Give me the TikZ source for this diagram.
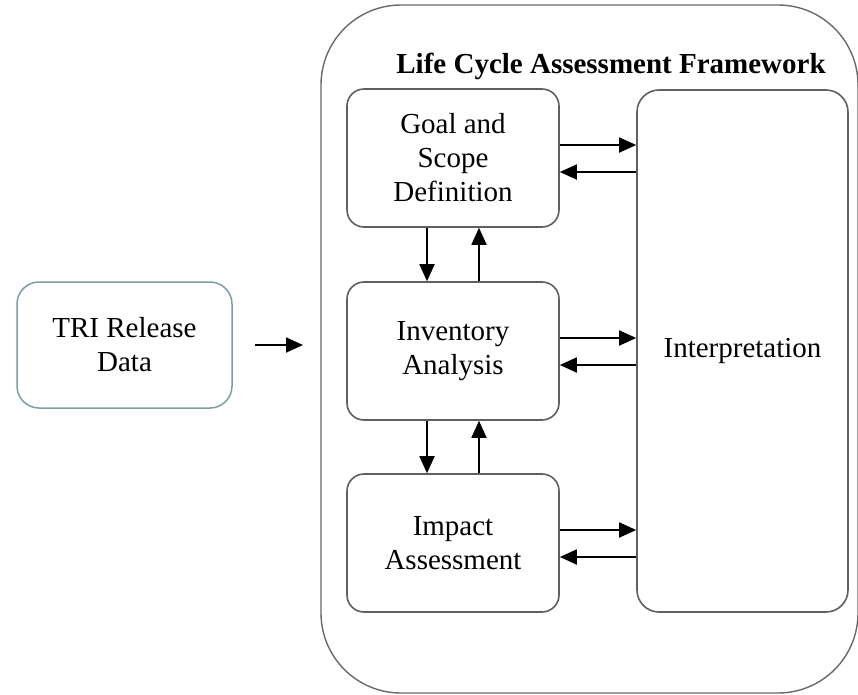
\documentclass[tikz,border=0pt]{standalone}
\usepackage{fontspec}
\setmainfont{Liberation Serif}
\usetikzlibrary{arrows.meta}
\definecolor{boxgray}{RGB}{95,95,95}
\definecolor{framegray}{RGB}{105,105,105}
\definecolor{tealgray}{RGB}{122,158,162}
\begin{document}
\begin{tikzpicture}[x=1pt,y=-1pt,
  txt/.style={font=\fontsize{29}{34}\selectfont, align=center},
  stage/.style={txt, draw=boxgray, line width=1.6pt, rounded corners=17pt,
    minimum width=212pt, minimum height=138pt, inner sep=0pt},
  arr/.style={line width=1.8pt, -{Triangle[length=17pt,width=15pt]}}
]
\useasboundingbox (0,0) rectangle (858,694);
\node[draw=framegray, line width=1.4pt, rounded corners=80pt,
  minimum width=537pt, minimum height=688pt, inner sep=0pt] (frame) at (589.5,349) {};
\node[font=\fontsize{29}{34}\selectfont\bfseries] (title) at (611,66) {Life Cycle Assessment Framework};
\node[stage] (goal) at (453,158) {Goal and\\Scope\\Definition};
\node[stage] (inv) at (453,351) {Inventory\\Analysis};
\node[stage] (imp) at (453,543) {Impact\\Assessment};
\node[stage, rounded corners=22pt, minimum width=211pt, minimum height=522pt] (interp) at (742.5,351) {Interpretation};
\node[txt, draw=tealgray, line width=1.5pt, rounded corners=22pt,
  minimum width=215pt, minimum height=126pt, inner sep=0pt] (tri) at (124.5,345) {TRI Release\\Data};
\coordinate (inA) at (255,345);
\coordinate (inB) at (303,345);
\draw[arr] (inA) -- (inB);
\foreach \b in {goal,inv,imp}{
  \draw[arr] ([yshift=13pt]\b.east) -- ([yshift=13pt]\b.east -| interp.west);
  \draw[arr] ([yshift=-14pt]\b.east -| interp.west) -- ([yshift=-14pt]\b.east);
}
\draw[arr] ([xshift=-26pt]goal.south) -- ([xshift=-26pt]goal.south |- inv.north);
\draw[arr] ([xshift=26pt]inv.north) -- ([xshift=26pt]inv.north |- goal.south);
\draw[arr] ([xshift=-26pt]inv.south) -- ([xshift=-26pt]inv.south |- imp.north);
\draw[arr] ([xshift=26pt]imp.north) -- ([xshift=26pt]imp.north |- inv.south);
\end{tikzpicture}
\end{document}
